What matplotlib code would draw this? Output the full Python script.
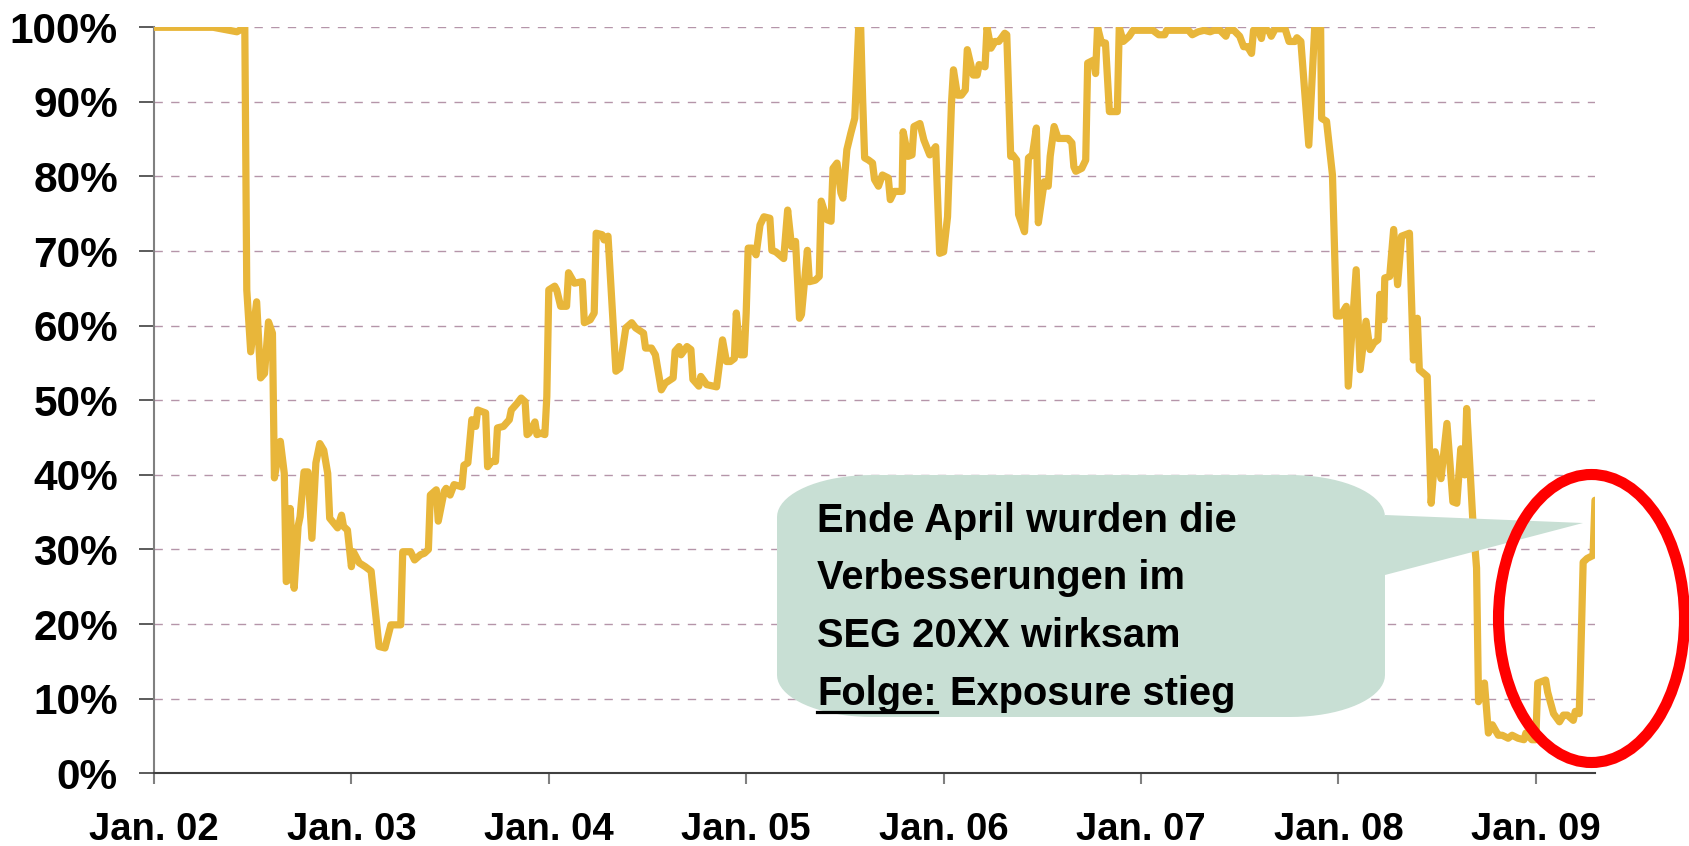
import numpy as np
import matplotlib
matplotlib.use("Agg")
import matplotlib.pyplot as plt
from matplotlib.patches import Polygon, Ellipse
from matplotlib.lines import Line2D

plt.rcParams['font.family'] = ['Liberation Sans', 'DejaVu Sans']

# exposure series (time in decimal years, value in %)
t = [2002.00, 2002.10, 2002.20, 2002.30, 2002.42, 2002.46, 2002.47, 2002.49, 2002.52, 2002.54,
     2002.56, 2002.58, 2002.60, 2002.61, 2002.64, 2002.66, 2002.67, 2002.68, 2002.69, 2002.71,
     2002.73, 2002.74, 2002.76, 2002.78, 2002.80, 2002.82, 2002.84, 2002.86, 2002.88, 2002.89,
     2002.93, 2002.95, 2002.96, 2002.98, 2003.00, 2003.01, 2003.04, 2003.07, 2003.10, 2003.14,
     2003.17, 2003.20, 2003.25, 2003.26, 2003.30, 2003.32, 2003.35, 2003.37, 2003.39, 2003.40,
     2003.43, 2003.44, 2003.47, 2003.48, 2003.50, 2003.52, 2003.56, 2003.57, 2003.59, 2003.61,
     2003.63, 2003.64, 2003.68, 2003.69, 2003.71, 2003.73, 2003.74, 2003.77, 2003.80, 2003.81,
     2003.84, 2003.86, 2003.88, 2003.89, 2003.90, 2003.93, 2003.94, 2003.96, 2003.98, 2003.99,
     2004.00, 2004.03, 2004.04, 2004.06, 2004.09, 2004.10, 2004.13, 2004.17, 2004.18, 2004.21,
     2004.23, 2004.24, 2004.27, 2004.28, 2004.30, 2004.34, 2004.36, 2004.39, 2004.42, 2004.44,
     2004.48, 2004.49, 2004.52, 2004.54, 2004.57, 2004.59, 2004.63, 2004.64, 2004.66, 2004.67,
     2004.70, 2004.72, 2004.73, 2004.76, 2004.77, 2004.80, 2004.85, 2004.88, 2004.90, 2004.92,
     2004.94, 2004.95, 2004.97, 2004.99, 2005.00, 2005.01, 2005.03, 2005.05, 2005.07, 2005.09,
     2005.12, 2005.13, 2005.15, 2005.19, 2005.21, 2005.23, 2005.25, 2005.27, 2005.28, 2005.31,
     2005.32, 2005.35, 2005.37, 2005.38, 2005.41, 2005.43, 2005.44, 2005.46, 2005.48, 2005.49,
     2005.51, 2005.53, 2005.55, 2005.57, 2005.58, 2005.59, 2005.60, 2005.62, 2005.64, 2005.65,
     2005.67, 2005.69, 2005.72, 2005.73, 2005.75, 2005.79, 2005.795, 2005.82, 2005.84, 2005.85,
     2005.88, 2005.90, 2005.93, 2005.96, 2005.98, 2006.00, 2006.02, 2006.04, 2006.05, 2006.07,
     2006.09, 2006.11, 2006.12, 2006.15, 2006.17, 2006.18, 2006.21, 2006.22, 2006.24, 2006.26,
     2006.28, 2006.31, 2006.32, 2006.34, 2006.35, 2006.37, 2006.38, 2006.41, 2006.43, 2006.45,
     2006.47, 2006.48, 2006.51, 2006.53, 2006.54, 2006.56, 2006.58, 2006.63, 2006.65, 2006.66,
     2006.67, 2006.70, 2006.72, 2006.73, 2006.76, 2006.77, 2006.78, 2006.80, 2006.82, 2006.84,
     2006.88, 2006.89, 2006.91, 2006.94, 2006.96, 2007.06, 2007.09, 2007.12, 2007.13, 2007.24,
     2007.26, 2007.29, 2007.32, 2007.35, 2007.37, 2007.40, 2007.43, 2007.44, 2007.47, 2007.50,
     2007.52, 2007.54, 2007.56, 2007.57, 2007.59, 2007.61, 2007.62, 2007.65, 2007.66, 2007.68,
     2007.73, 2007.75, 2007.78, 2007.79, 2007.81, 2007.85, 2007.88, 2007.91, 2007.915, 2007.94,
     2007.97, 2007.99, 2008.01, 2008.04, 2008.05, 2008.09, 2008.11, 2008.14, 2008.16, 2008.18,
     2008.20, 2008.21, 2008.23, 2008.235, 2008.26, 2008.28, 2008.30, 2008.32, 2008.36, 2008.38,
     2008.40, 2008.41, 2008.45, 2008.47, 2008.49, 2008.52, 2008.55, 2008.58, 2008.60, 2008.62,
     2008.64, 2008.65, 2008.68, 2008.70, 2008.71, 2008.74, 2008.76, 2008.78, 2008.81, 2008.83,
     2008.86, 2008.88, 2008.91, 2008.94, 2008.95, 2008.98, 2009.00, 2009.01, 2009.05, 2009.06,
     2009.09, 2009.12, 2009.14, 2009.16, 2009.19, 2009.20, 2009.22, 2009.225, 2009.24, 2009.26,
     2009.29, 2009.30]
exposure = [100, 100, 100, 100, 99.4, 100, 64.8, 56.5, 63.2, 53.0,
            53.6, 60.5, 59.0, 39.6, 44.5, 40.2, 25.7, 25.9, 35.5, 24.8,
            33.1, 34.4, 40.4, 40.4, 31.5, 41.6, 44.2, 43.3, 40.2, 34.2,
            32.9, 34.6, 33.1, 32.6, 27.7, 29.7, 28.2, 27.7, 27.1, 17.0,
            16.8, 19.9, 19.9, 29.7, 29.7, 28.6, 29.3, 29.5, 30.0, 37.3,
            38.0, 33.8, 37.8, 38.2, 37.3, 38.7, 38.4, 41.3, 41.6, 47.4,
            46.5, 48.7, 48.3, 41.1, 41.8, 41.8, 46.3, 46.5, 47.4, 48.7,
            49.6, 50.3, 49.8, 45.4, 45.6, 47.1, 45.4, 45.6, 45.4, 50.5,
            64.8, 65.3, 64.8, 62.6, 62.6, 67.1, 65.7, 65.9, 60.4, 60.8,
            61.7, 72.4, 72.2, 71.5, 72.0, 53.9, 54.3, 59.7, 60.4, 59.7,
            59.0, 57.0, 57.0, 56.1, 51.4, 52.3, 53.0, 56.6, 57.2, 56.1,
            57.2, 56.8, 52.8, 51.9, 53.2, 52.1, 51.8, 58.1, 55.2, 55.2,
            55.6, 61.7, 56.1, 56.1, 61.7, 70.4, 70.4, 69.5, 73.5, 74.6,
            74.4, 70.1, 69.9, 69.0, 75.5, 70.6, 71.3, 61.0, 61.5, 70.1,
            65.9, 66.1, 66.6, 76.7, 74.2, 74.0, 81.1, 81.8, 77.8, 77.1,
            83.6, 85.8, 87.8, 100, 100, 90.3, 82.5, 82.2, 81.8, 79.6,
            78.7, 80.2, 79.8, 76.9, 78.0, 78.0, 86.0, 82.7, 82.9, 86.7,
            87.1, 84.9, 82.9, 84.0, 69.7, 69.9, 74.6, 89.8, 94.3, 90.9,
            90.9, 91.6, 97.0, 93.6, 93.6, 95.0, 94.7, 100, 97.2, 98.1,
            98.1, 99.2, 99.0, 82.7, 82.9, 82.2, 74.9, 72.6, 82.5, 82.9,
            86.5, 73.8, 79.3, 78.7, 82.7, 86.7, 85.1, 85.1, 84.5, 81.3,
            80.7, 81.1, 82.2, 95.2, 95.6, 93.8, 100, 97.9, 97.9, 88.7,
            88.7, 100, 98.1, 98.8, 99.6, 99.6, 99.0, 99.0, 99.6, 99.6,
            99.0, 99.4, 99.6, 99.4, 99.6, 99.6, 98.8, 99.6, 99.6, 98.8,
            97.4, 97.4, 96.5, 99.6, 100, 98.5, 100, 99.4, 98.8, 99.8,
            99.8, 98.1, 98.1, 98.6, 98.1, 84.2, 100, 100, 87.8, 87.4,
            80.2, 61.3, 61.3, 62.6, 51.9, 67.5, 54.1, 60.6, 56.8, 57.7,
            58.1, 64.2, 60.8, 66.4, 66.6, 72.9, 65.5, 72.0, 72.4, 55.4,
            61.0, 54.1, 53.2, 36.2, 43.1, 39.5, 46.9, 36.4, 36.2, 43.5,
            40.0, 48.9, 34.4, 27.5, 9.6, 12.1, 5.4, 6.5, 5.1, 5.1,
            4.7, 5.1, 4.7, 4.5, 5.4, 4.5, 4.5, 12.1, 12.5, 10.9,
            8.0, 6.9, 7.8, 7.8, 7.1, 8.3, 8.0, 12.5, 28.3, 28.8,
            29.2, 36.6]

years = [2002, 2003, 2004, 2005, 2006, 2007, 2008, 2009]
year_labels = ["Jan. 02", "Jan. 03", "Jan. 04", "Jan. 05", "Jan. 06", "Jan. 07", "Jan. 08", "Jan. 09"]
pct_ticks = list(range(0, 101, 10))
callout_lines = ["Ende April wurden die", "Verbesserungen im", "SEG 20XX wirksam"]

W, H = 1690, 846
fig = plt.figure(figsize=(W / 100, H / 100), dpi=100)
ax = fig.add_axes([154 / W, 1 - 773.3 / H, (1595 - 154) / W, (773.3 - 27.3) / H])

ax.plot(t, exposure, color='#E8B63A', lw=5.2, solid_joinstyle='round', solid_capstyle='round', zorder=3)

ax.set_xlim(2002, 2009.30)
ax.set_ylim(0, 100)
ax.set_xticks(years)
ax.set_xticklabels(year_labels, fontweight='bold')
ax.set_yticks(pct_ticks)
ax.set_yticklabels([f"{p}%" for p in pct_ticks], fontweight='bold')
ax.yaxis.grid(True, linestyle=(0, (6, 6)), color='#B595A9', lw=1.0)
ax.set_axisbelow(True)

for s in ['top', 'right']:
    ax.spines[s].set_visible(False)
ax.spines['left'].set_color('#808080')
ax.spines['left'].set_linewidth(1.5)
ax.spines['bottom'].set_color('#404040')
ax.spines['bottom'].set_linewidth(1.5)
ax.tick_params(axis='y', length=11, width=1.2, color='#404040', pad=15, labelsize=30.5)
ax.tick_params(axis='x', length=8, width=1.5, color='#808080', pad=20, labelsize=27.5)


def fx(x):
    return x / W


def fy(y):
    return 1 - y / H


# speech bubble (pixel coords, y down)
l, tp, r, b = 777, 475, 1385, 717
rx, ry = 95, 42
wedge_top, wedge_bot, tip = 515, 575, (1583, 523)
pts = []
for a in np.linspace(np.pi / 2, 0, 20):
    pts.append((r - rx + rx * np.cos(a), tp + ry - ry * np.sin(a)))
pts += [(r, wedge_top), tip, (r, wedge_bot)]
for a in np.linspace(0, -np.pi / 2, 20):
    pts.append((r - rx + rx * np.cos(a), b - ry - ry * np.sin(a)))
for a in np.linspace(-np.pi / 2, -np.pi, 20):
    pts.append((l + rx + rx * np.cos(a), b - ry - ry * np.sin(a)))
for a in np.linspace(np.pi, np.pi / 2, 20):
    pts.append((l + rx + rx * np.cos(a), tp + ry - ry * np.sin(a)))
bubble = Polygon([(fx(x), fy(y)) for x, y in pts], closed=True, transform=fig.transFigure,
                 facecolor='#C8DFD4', edgecolor='none', zorder=5)
fig.add_artist(bubble)

ring = Ellipse((fx(1591.5), fy(618.5)), 186 / W, 288 / H, transform=fig.transFigure,
               fill=False, edgecolor='#FF0000', lw=8, zorder=6)
fig.add_artist(ring)

baselines = [531.7, 589.3, 646.7, 705]
for line, yb in zip(callout_lines, baselines):
    fig.text(fx(817), fy(yb), line, fontsize=28.7, fontweight='bold', va='baseline', zorder=7)
folge = fig.text(fx(817), fy(baselines[3]), "Folge:", fontsize=28.7, fontweight='bold', va='baseline', zorder=7)
fig.canvas.draw()
bb = folge.get_window_extent()
fig.add_artist(Line2D([bb.x0 / W, bb.x1 / W], [fy(711.5), fy(711.5)], transform=fig.transFigure,
                      color='black', lw=2.3, zorder=7))
fig.text((bb.x1 + 13) / W, fy(baselines[3]), "Exposure stieg", fontsize=28.7, fontweight='bold',
         va='baseline', zorder=7)

fig.savefig("out.png", dpi=100)
